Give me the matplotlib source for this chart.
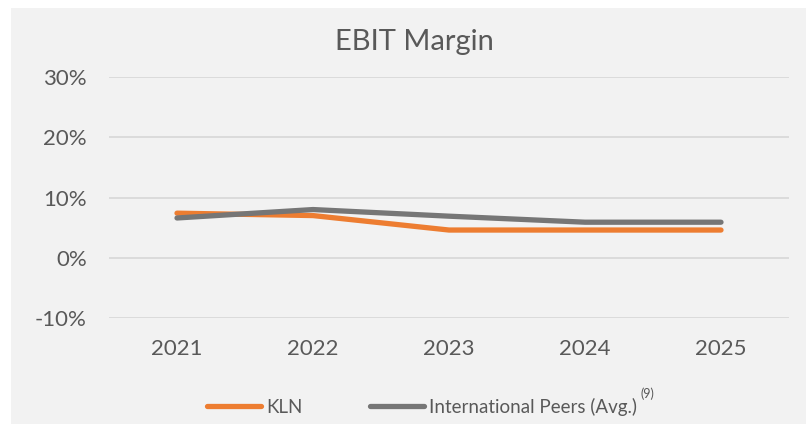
import matplotlib
matplotlib.use("Agg")
import matplotlib.pyplot as plt
import matplotlib.patches as patches

# --- Datos ---
years = ["2021", "2022", "2023", "2024", "2025"]
kln = [7.4, 7.0, 4.6, 4.6, 4.6]
peers = [6.6, 8.0, 6.9, 5.9, 5.9]
yticks = [-10, 0, 10, 20, 30]

txt = "#595959"
bg = "#f2f2f2"
plt.rcParams["font.family"] = ["Lato", "DejaVu Sans"]

fig = plt.figure(figsize=(8.06, 4.24), dpi=100)
fig.patch.set_facecolor("white")
# fondo gris (con margen blanco arriba/izquierda)
fig.patches.append(patches.Rectangle((11 / 806, 0), 1, 1 - 8 / 424,
                                     transform=fig.transFigure, facecolor=bg,
                                     edgecolor="none", zorder=-10))

ax = fig.add_axes([109 / 806, 106 / 424, 680 / 806, 241 / 424])
ax.set_facecolor(bg)

x = range(len(years))
l1, = ax.plot(x, kln, color="#ED7D31", lw=3.8, solid_capstyle="round", label="KLN", zorder=3)
l2, = ax.plot(x, peers, color="#767676", lw=3.8, solid_capstyle="round",
              label="International Peers (Avg.)", zorder=4)

ax.set_xlim(-0.5, len(years) - 0.5)
ax.set_ylim(-10, 30)
ax.set_yticks(yticks)
ax.set_yticklabels([f"{v}%" for v in yticks])
ax.set_xticks(list(x))
ax.set_xticklabels(years)
ax.grid(axis="y", color="#d9d9d9", lw=1.3)
ax.set_axisbelow(True)
for s in ax.spines.values():
    s.set_visible(False)
ax.tick_params(length=0, labelsize=16, colors=txt)
ax.tick_params(axis="y", pad=16)
ax.tick_params(axis="x", pad=15)

fig.text(414 / 806, 1 - 50 / 424, "EBIT Margin", ha="center", va="baseline",
         fontsize=21, color=txt)

leg = fig.legend(handles=[l1, l2], loc="center", bbox_to_anchor=(422 / 806, 17 / 424),
                 ncol=2, frameon=False, fontsize=13.5, handlelength=2.9,
                 handletextpad=0.27, columnspacing=3.6)
for t in leg.get_texts():
    t.set_color(txt)
fig.text(647 / 806, 1 - 394 / 424, "(9)", ha="center", va="center", fontsize=9, color=txt)

fig.savefig("out.png", dpi=100, facecolor=fig.get_facecolor())
